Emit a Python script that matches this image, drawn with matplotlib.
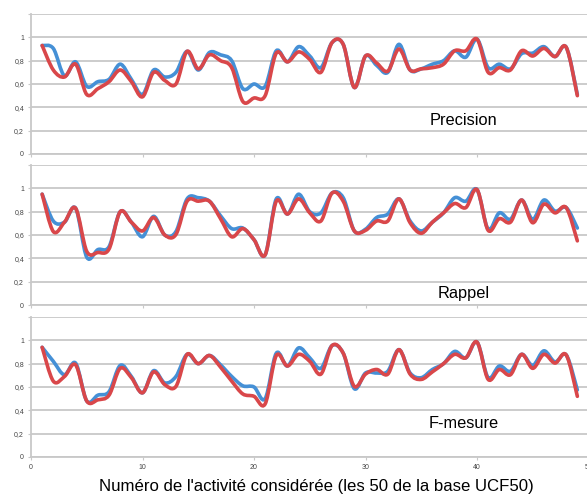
import numpy as np
import matplotlib.pyplot as plt
from matplotlib.path import Path
from matplotlib.patches import PathPatch

# activités 1..49
activites = list(range(1, 50))

precision_bleu = [0.93, 0.905, 0.67, 0.79, 0.58, 0.62, 0.64, 0.77, 0.64, 0.51,
                  0.72, 0.66, 0.70, 0.88, 0.72, 0.87, 0.85, 0.80, 0.56, 0.60,
                  0.58, 0.885, 0.79, 0.92, 0.84, 0.74, 0.955, 0.94, 0.57, 0.84,
                  0.76, 0.70, 0.94, 0.72, 0.73, 0.77, 0.80, 0.885, 0.83, 0.985,
                  0.74, 0.77, 0.73, 0.86, 0.865, 0.92, 0.835, 0.915, 0.51]
precision_rouge = [0.93, 0.72, 0.66, 0.77, 0.51, 0.56, 0.62, 0.72, 0.62, 0.49,
                   0.70, 0.63, 0.60, 0.88, 0.73, 0.85, 0.80, 0.74, 0.45, 0.48,
                   0.50, 0.865, 0.79, 0.875, 0.81, 0.70, 0.955, 0.94, 0.57, 0.84,
                   0.78, 0.71, 0.90, 0.72, 0.73, 0.74, 0.77, 0.885, 0.885, 0.985,
                   0.70, 0.74, 0.72, 0.885, 0.84, 0.905, 0.835, 0.915, 0.50]

rappel_bleu = [0.95, 0.72, 0.71, 0.83, 0.41, 0.475, 0.50, 0.80, 0.71, 0.585,
               0.76, 0.60, 0.63, 0.91, 0.92, 0.89, 0.765, 0.655, 0.66, 0.56,
               0.43, 0.91, 0.78, 0.95, 0.80, 0.79, 0.96, 0.92, 0.635, 0.65,
               0.75, 0.78, 0.91, 0.72, 0.635, 0.71, 0.79, 0.92, 0.89, 0.99,
               0.65, 0.79, 0.735, 0.90, 0.735, 0.90, 0.805, 0.835, 0.66]
rappel_rouge = [0.95, 0.63, 0.71, 0.83, 0.46, 0.45, 0.48, 0.80, 0.71, 0.635,
                0.75, 0.60, 0.605, 0.89, 0.89, 0.89, 0.74, 0.585, 0.655, 0.56,
                0.43, 0.89, 0.78, 0.91, 0.79, 0.72, 0.96, 0.89, 0.635, 0.64,
                0.72, 0.72, 0.91, 0.705, 0.615, 0.71, 0.79, 0.87, 0.835, 0.99,
                0.64, 0.74, 0.71, 0.90, 0.705, 0.865, 0.79, 0.835, 0.55]

fmesure_bleu = [0.94, 0.82, 0.705, 0.805, 0.48, 0.53, 0.56, 0.785, 0.69, 0.55,
                0.74, 0.635, 0.69, 0.88, 0.80, 0.87, 0.79, 0.69, 0.61, 0.60,
                0.50, 0.89, 0.78, 0.935, 0.85, 0.76, 0.955, 0.89, 0.585, 0.72,
                0.72, 0.735, 0.92, 0.72, 0.68, 0.75, 0.80, 0.905, 0.85, 0.985,
                0.68, 0.78, 0.735, 0.88, 0.785, 0.91, 0.815, 0.875, 0.575]
fmesure_rouge = [0.94, 0.65, 0.69, 0.79, 0.48, 0.49, 0.53, 0.76, 0.68, 0.55,
                 0.73, 0.62, 0.605, 0.88, 0.80, 0.87, 0.77, 0.65, 0.54, 0.52,
                 0.455, 0.87, 0.78, 0.88, 0.82, 0.71, 0.955, 0.89, 0.605, 0.71,
                 0.75, 0.71, 0.92, 0.71, 0.665, 0.73, 0.80, 0.88, 0.85, 0.985,
                 0.665, 0.75, 0.705, 0.88, 0.76, 0.88, 0.805, 0.875, 0.52]

panneaux = [
    ("Precision", precision_bleu, precision_rouge, 0.29),
    ("Rappel", rappel_bleu, rappel_rouge, 0.10),
    ("F-mesure", fmesure_bleu, fmesure_rouge, 0.29),
]

bleu = "#4590d6"
rouge = "#d9474a"
gris = "#c8c8c8"

plt.rcParams['font.family'] = ['Liberation Sans', 'DejaVu Sans']


def courbe_lissee(ax, x, y, couleur):
    # ligne lissée façon Excel (courbes de Bézier)
    pts = np.column_stack([x, y]).astype(float)
    n = len(pts)
    verts = [pts[0]]
    codes = [Path.MOVETO]
    for i in range(n - 1):
        p0 = pts[max(i - 1, 0)]
        p1 = pts[i]
        p2 = pts[i + 1]
        p3 = pts[min(i + 2, n - 1)]
        c1 = p1 + (p2 - p0) / 6
        c2 = p2 - (p3 - p1) / 6
        verts += [c1, c2, p2]
        codes += [Path.CURVE4] * 3
    patch = PathPatch(Path(verts, codes), fill=False, edgecolor=couleur,
                      lw=2.6, capstyle='round', joinstyle='round', zorder=3)
    ax.add_patch(patch)


fig = plt.figure(figsize=(5.87, 4.95), dpi=100)
bas = [0.6889, 0.3838, 0.0768]
for (titre, yb, yr, ty), b in zip(panneaux, bas):
    ax = fig.add_axes([31 / 587, b, 557.5 / 587, 0.2828])
    courbe_lissee(ax, activites, yb, bleu)
    courbe_lissee(ax, activites, yr, rouge)
    ax.set_xlim(0, 50)
    ax.set_ylim(0, 1.2)
    ax.set_yticks([0, 0.2, 0.4, 0.6, 0.8, 1, 1.2])
    ax.set_yticklabels(["0", "0,2", "0,4", "0,6", "0,8", "1", ""])
    ax.set_xticks([0, 10, 20, 30, 40, 50])
    ax.grid(axis='y', color=gris, lw=1.3)
    ax.set_axisbelow(True)
    for s in ["top", "right"]:
        ax.spines[s].set_visible(False)
    ax.spines["left"].set_color(gris)
    ax.spines["bottom"].set_color(gris)
    ax.spines["left"].set_linewidth(1.3)
    ax.spines["bottom"].set_linewidth(1.3)
    ax.tick_params(axis='both', length=2, color=gris, labelsize=5,
                   labelcolor="#444444", pad=3)
    if b != bas[-1]:
        ax.set_xticklabels([])
    ax.text(38.8, ty, titre, ha='center', va='center', fontsize=11.8)

fig.text(316 / 587, 1 - 487 / 495, "Numéro de l'activité considérée (les 50 de la base UCF50)",
         ha='center', va='center', fontsize=12.1)

fig.savefig("out.png", dpi=100)
